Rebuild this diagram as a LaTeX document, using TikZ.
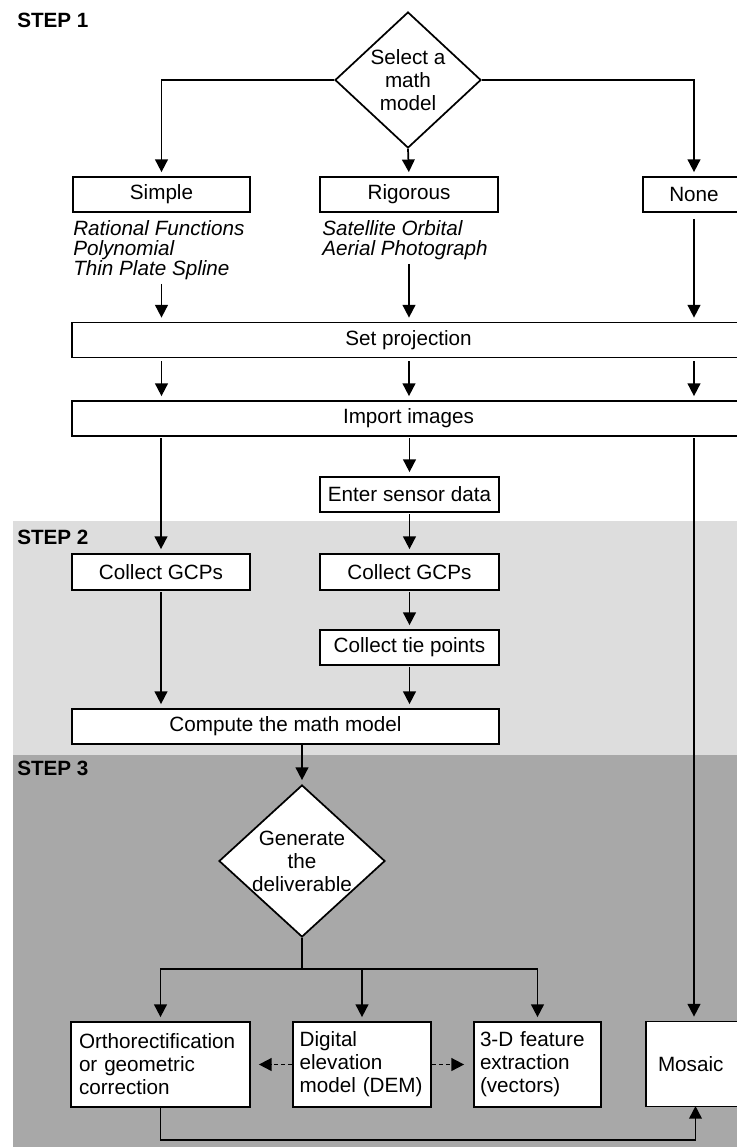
\documentclass[tikz,border=0pt]{standalone}
\usepackage{fontspec}
\setmainfont{Liberation Sans}
\usetikzlibrary{shapes.geometric,arrows.meta,calc}
\definecolor{bandlight}{HTML}{DDDDDD}
\definecolor{banddark}{HTML}{A8A8A8}
\begin{document}
\begin{tikzpicture}[x=0.75pt,y=-0.75pt,
  every node/.style={font=\fontsize{15.5pt}{17.25pt}\selectfont},
  box/.style={draw,fill=white,line width=1.3pt,rectangle,inner sep=0pt,align=center},
  tbox/.style={draw,fill=white,line width=1.3pt,rectangle,inner ysep=0pt,align=left,minimum height=63.75pt},
  dia/.style={draw,fill=white,line width=1.3pt,diamond,inner sep=0pt,align=center},
  arr/.style={line width=1.3pt,-{Triangle[length=9.5pt,width=9.5pt]},shorten >=3pt},
  darr/.style={line width=1.3pt,dash pattern=on 3pt off 2.25pt,-{Triangle[length=9.5pt,width=9.5pt]}},
  ln/.style={line width=1.3pt},
  lst/.style={font=\fontsize{15.5pt}{15pt}\selectfont\itshape,align=left,inner sep=0pt,anchor=north west},
  steplbl/.style={font=\fontsize{15.5pt}{17pt}\selectfont\bfseries,inner sep=0pt,anchor=west}
]
\useasboundingbox (0,0) rectangle (737,1147);
% background bands
\fill[bandlight] (13,521) rectangle (737,755);
\fill[banddark] (13,755) rectangle (737,1147);

% step labels
\node[steplbl] (s1) at (17,20) {STEP 1};
\node[steplbl] (s2) at (17,537) {STEP 2};
\node[steplbl] (s3) at (17,768) {STEP 3};

% step 1
\node[dia,minimum width=109.5pt,minimum height=102pt,inner ysep=-3pt,inner xsep=-1pt] (d1) at (408,80) {Select a\\math\\model};
\node[box,minimum width=132.75pt,minimum height=26.25pt] (simple) at (161.5,194.5) {Simple};
\node[box,minimum width=133.5pt,minimum height=26.25pt] (rig) at (409,194.5) {Rigorous};
\node[box,minimum width=76.5pt,minimum height=26.25pt] (none) at (694,194.5) {None};
\node[lst] (slist) at (73,220) {Rational Functions\\Polynomial\\Thin Plate Spline};
\node[lst] (rlist) at (322,220) {Satellite Orbital\\Aerial Photograph};
\node[box,minimum width=504.75pt,minimum height=26.25pt] (sp) at (408.5,340) {Set projection};
\node[box,minimum width=504.75pt,minimum height=26.25pt] (ii) at (408.5,418.5) {Import images};
\node[box,minimum width=134.25pt,minimum height=26.25pt] (esd) at (409.5,494.5) {Enter sensor data};

% step 2
\node[box,minimum width=133.5pt,minimum height=27pt] (cg1) at (161,572) {Collect GCPs};
\node[box,minimum width=134.25pt,minimum height=27pt] (cg2) at (409.5,572) {Collect GCPs};
\node[box,minimum width=134.25pt,minimum height=26.25pt] (ctp) at (409.5,647.5) {Collect tie points};
\node[box,minimum width=320.25pt,minimum height=26.25pt] (cmm) at (285.5,726.5) {Compute the math model};

% step 3
\node[dia,minimum width=124.5pt,minimum height=114pt,inner ysep=-5pt,inner xsep=-3pt] (d2) at (302,861) {Generate\\the\\deliverable};
\node[tbox,inner xsep=6pt,text width=122.25pt] (ortho) at (160.5,1064.5) {Orthorectification\\or geometric\\correction};
\node[tbox,inner xsep=5pt,text width=93.5pt] (dem) at (362,1064.5) {Digital\\elevation\\model (DEM)};
\node[tbox,inner xsep=4.5pt,text width=86.25pt] (feat) at (537.5,1064.5) {3-D feature\\extraction\\(vectors)};
\node[tbox,inner xsep=9pt,text width=56.25pt] (mosaic) at (695.5,1064) {Mosaic};

\coordinate (j) at (302,969);
\coordinate (mb) at (695.5,1140);

% connectors step 1
\draw[arr] (d1.west) -| (simple.north);
\draw[arr] (d1.south) -- (rig.north);
\draw[arr] (d1.east) -| (none.north);
\draw[arr,shorten <=3pt] (slist.south -| simple.south) -- (sp.north -| simple.south);
\draw[arr,shorten <=3pt] (rlist.south -| rig.south) -- (sp.north -| rig.south);
\draw[arr,shorten <=4.5pt] (none.south) -- (sp.north -| none.south);
\draw[arr,shorten <=2pt] (sp.south -| simple.south) -- (ii.north -| simple.south);
\draw[arr,shorten <=2pt] (sp.south -| rig.south) -- (ii.north -| rig.south);
\draw[arr,shorten <=2pt] (sp.south -| none.south) -- (ii.north -| none.south);
\draw[arr,shorten <=1pt] (ii.south -| cg1.north) -- (cg1.north);
\draw[arr,shorten <=1pt] (ii.south -| esd.north) -- (esd.north);
\draw[arr,shorten <=1pt] (ii.south -| none.south) -- (mosaic.north -| none.south);

% connectors step 2
\draw[arr,shorten <=1pt] (esd.south) -- (cg2.north);
\draw[arr,shorten <=1pt] (cg2.south) -- (ctp.north);
\draw[arr,shorten <=1pt] (cg1.south) -- (cmm.north -| cg1.south);
\draw[arr,shorten <=1pt] (ctp.south) -- (cmm.north -| ctp.south);
\draw[arr] (cmm.south -| d2.north) -- (d2.north);

% connectors step 3
\draw[ln] (d2.south) -- (j);
\draw[arr] (j) -| (ortho.north);
\draw[arr] (j) -| (feat.north);
\draw[arr] (dem.north |- j) -- (dem.north);
\draw[darr,shorten >=6pt] (dem.west) -- (ortho.east);
\draw[darr,shorten >=6.75pt] (dem.east) -- (feat.west);
\draw[arr,shorten >=-1pt] (ortho.south) |- (mb) -- (mosaic.south);
\end{tikzpicture}
\end{document}
